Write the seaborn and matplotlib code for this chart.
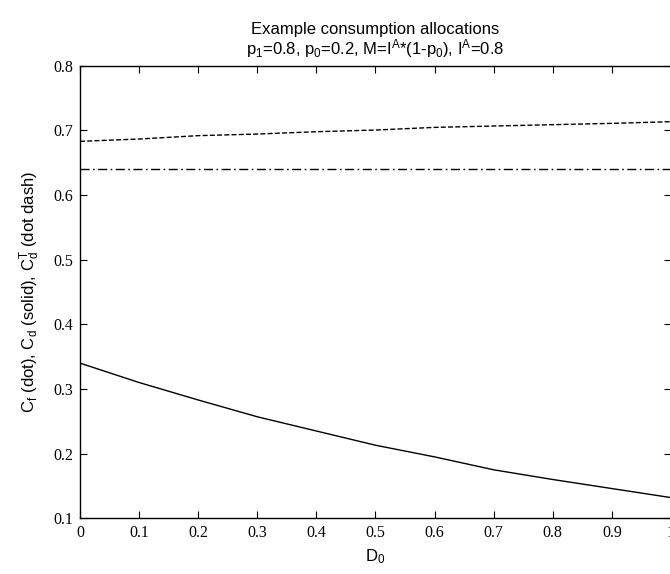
import matplotlib
matplotlib.use("Agg")
import matplotlib.pyplot as plt
import numpy as np
import pandas as pd
import seaborn as sns

# values (D0 in steps of 0.1)
d0 = [0.0, 0.1, 0.2, 0.3, 0.4, 0.5, 0.6, 0.7, 0.8, 0.9, 1.0]
c_f = [0.683, 0.6866, 0.6918, 0.6943, 0.6979, 0.7005, 0.7046, 0.7067, 0.7088, 0.7108, 0.7134]
c_d = [0.340, 0.310, 0.283, 0.257, 0.235, 0.213, 0.195, 0.175, 0.160, 0.146, 0.132]
c_dT = [0.64, 0.64, 0.64, 0.64, 0.64, 0.64, 0.64, 0.64, 0.64, 0.64, 0.64]

xticks = [0, 0.1, 0.2, 0.3, 0.4, 0.5, 0.6, 0.7, 0.8, 0.9, 1]
xtick_labels = ["0", "0.1", "0.2", "0.3", "0.4", "0.5", "0.6", "0.7", "0.8", "0.9", "1"]
yticks = [0.1, 0.2, 0.3, 0.4, 0.5, 0.6, 0.7, 0.8]

df = pd.DataFrame({"D0": d0, "Cf": c_f, "Cd": c_d, "CdT": c_dT})

sns.set_style("ticks")
plt.rcParams["font.family"] = ["Liberation Sans", "DejaVu Sans"]
plt.rcParams["xtick.direction"] = "in"
plt.rcParams["ytick.direction"] = "in"
plt.rcParams["text.color"] = "k"
plt.rcParams["axes.labelcolor"] = "k"

fig = plt.figure(figsize=(6.7, 5.74), dpi=100)
ax = fig.add_axes([80 / 670, (574 - 518.3) / 574, 591 / 670, 452.6 / 574])

sns.lineplot(data=df, x="D0", y="Cf", ax=ax, color="k", lw=1, linestyle=(0, (3.6, 1.6)))
sns.lineplot(data=df, x="D0", y="Cd", ax=ax, color="k", lw=1)
sns.lineplot(data=df, x="D0", y="CdT", ax=ax, color="k", lw=1, linestyle=(0, (6.5, 2.5, 1.2, 2.5)))

ax.set_xlim(0, 1)
ax.set_ylim(0.1, 0.8)
ax.set_xticks(xticks)
ax.set_xticklabels(xtick_labels)
ax.set_yticks(yticks)
ax.set_yticklabels([f"{v:.1f}" for v in yticks])
for lab in ax.get_xticklabels() + ax.get_yticklabels():
    lab.set_family("Liberation Serif")
    lab.set_fontsize(11.5)
ax.tick_params(axis="both", which="both", top=True, right=True, length=5, width=0.8, pad=5, colors="k")
for s in ax.spines.values():
    s.set_visible(True)
    s.set_linewidth(1.0)
    s.set_color("k")

ax.set_xlabel(r"$\mathregular{D_0}$", fontsize=12)
ax.set_ylabel(r"$\mathregular{C_f}$ (dot), $\mathregular{C_d}$ (solid), $\mathregular{C_d^T}$ (dot dash)",
              fontsize=12, labelpad=8)
ax.set_title("Example consumption allocations\n"
             r"$\mathregular{p_1}$=0.8, $\mathregular{p_0}$=0.2, M=$\mathregular{I^A}$*(1-$\mathregular{p_0}$), $\mathregular{I^A}$=0.8",
             fontsize=12, pad=8, linespacing=1.0, color="k")

fig.savefig("out.png", dpi=100)
